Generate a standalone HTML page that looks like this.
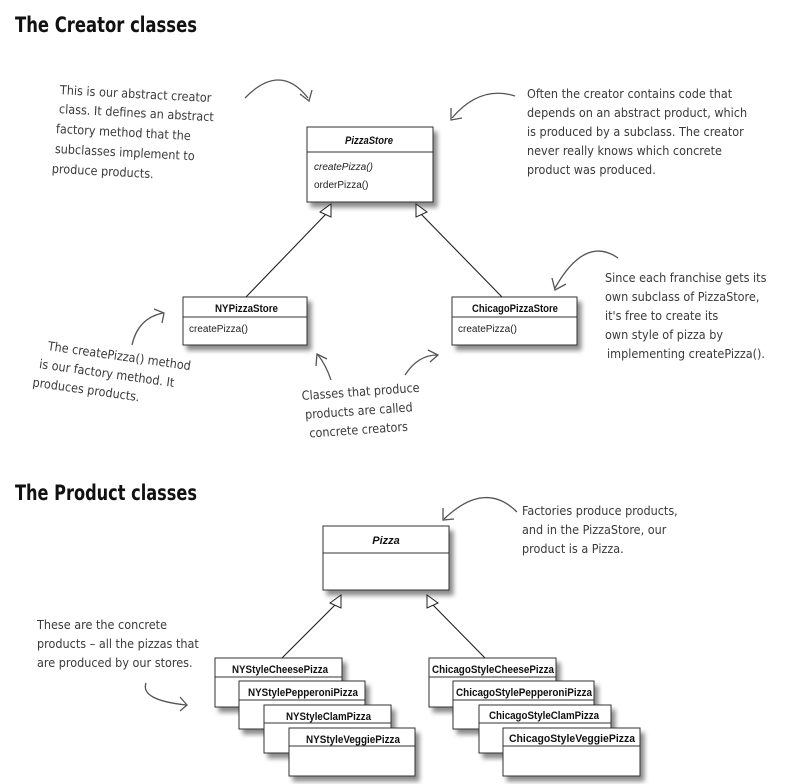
<!DOCTYPE html>
<html><head><meta charset="utf-8"><style>
html,body{margin:0;padding:0;background:#fff;}
svg{display:block}
.h{font-family:"DejaVu Sans Condensed","DejaVu Sans",sans-serif;font-weight:bold;font-size:21px;fill:#111}
.n{font-family:"DejaVu Sans Condensed","DejaVu Sans",sans-serif;font-size:12.5px;fill:#3a3a3a}
.c{font-family:"Liberation Sans",sans-serif;font-size:11px;font-weight:bold;fill:#111}
.m{font-family:"Liberation Sans",sans-serif;font-size:10px;fill:#222}
.b{fill:#fff;stroke:#333;stroke-width:1}
.a{fill:none;stroke:#555;stroke-width:1.3}
</style></head><body>
<svg width="809" height="784" viewBox="0 0 809 784">
<defs>
<filter id="s" x="-20%" y="-20%" width="150%" height="160%">
<feDropShadow dx="4" dy="5" stdDeviation="2.5" flood-color="#000" flood-opacity="0.45"/>
</filter>
</defs>
<text class="h" x="15" y="32" textLength="182" lengthAdjust="spacingAndGlyphs">The Creator classes</text>
<text class="h" x="15" y="500" textLength="182" lengthAdjust="spacingAndGlyphs">The Product classes</text>

<!-- PizzaStore -->
<g filter="url(#s)"><rect class="b" x="307" y="127" width="126" height="75"/></g>
<line x1="307" y1="152" x2="433" y2="152" stroke="#333"/>
<text class="c" x="345" y="144" font-style="italic" textLength="48" lengthAdjust="spacingAndGlyphs">PizzaStore</text>
<text class="m" x="314" y="170" font-style="italic">createPizza()</text>
<text class="m" x="314" y="188">orderPizza()</text>

<g filter="url(#s)"><rect class="b" x="183" y="297" width="124" height="48"/></g>
<line x1="183" y1="317" x2="307" y2="317" stroke="#333"/>
<text class="c" x="215" y="312" textLength="63" lengthAdjust="spacingAndGlyphs">NYPizzaStore</text>
<text class="m" x="189" y="332">createPizza()</text>

<g filter="url(#s)"><rect class="b" x="452" y="297" width="125" height="48"/></g>
<line x1="452" y1="317" x2="577" y2="317" stroke="#333"/>
<text class="c" x="472" y="312" textLength="86" lengthAdjust="spacingAndGlyphs">ChicagoPizzaStore</text>
<text class="m" x="458" y="332">createPizza()</text>

<line x1="326" y1="214" x2="246" y2="297" stroke="#222" stroke-width="1.1"/>
<line x1="421" y1="214" x2="502" y2="297" stroke="#222" stroke-width="1.1"/>
<polygon points="331,204 331,217 320,212" fill="#fff" stroke="#222"/>
<polygon points="416,204 416,217 427,212" fill="#fff" stroke="#222"/>

<!-- Pizza -->
<g filter="url(#s)"><rect class="b" x="323" y="526" width="126" height="64"/></g>
<line x1="323" y1="553" x2="449" y2="553" stroke="#333"/>
<text class="c" x="386" y="544" text-anchor="middle" font-style="italic">Pizza</text>
<line x1="336" y1="604" x2="282" y2="658" stroke="#222" stroke-width="1.1"/>
<line x1="432" y1="604" x2="485" y2="658" stroke="#222" stroke-width="1.1"/>
<polygon points="341,595 341,608 330,603" fill="#fff" stroke="#222"/>
<polygon points="427,595 427,608 438,603" fill="#fff" stroke="#222"/>

<!-- NY products -->
<g filter="url(#s)"><rect class="b" x="215" y="658" width="127" height="49"/></g>
<line x1="215" y1="677" x2="342" y2="677" stroke="#333"/>
<text class="c" x="232" y="673" textLength="96" lengthAdjust="spacingAndGlyphs">NYStyleCheesePizza</text>
<g filter="url(#s)"><rect class="b" x="239" y="681" width="126" height="48"/></g>
<line x1="239" y1="700" x2="365" y2="700" stroke="#333"/>
<text class="c" x="248" y="696" textLength="110" lengthAdjust="spacingAndGlyphs">NYStylePepperoniPizza</text>
<g filter="url(#s)"><rect class="b" x="264" y="705" width="127" height="48"/></g>
<line x1="264" y1="723" x2="391" y2="723" stroke="#333"/>
<text class="c" x="286" y="720" textLength="85" lengthAdjust="spacingAndGlyphs">NYStyleClamPizza</text>
<g filter="url(#s)"><rect class="b" x="289" y="728" width="126" height="48"/></g>
<line x1="289" y1="746" x2="415" y2="746" stroke="#333"/>
<text class="c" x="306" y="743" textLength="94" lengthAdjust="spacingAndGlyphs">NYStyleVeggiePizza</text>

<!-- Chicago products -->
<g filter="url(#s)"><rect class="b" x="429" y="658" width="127" height="49"/></g>
<line x1="429" y1="677" x2="556" y2="677" stroke="#333"/>
<text class="c" x="432" y="673" textLength="122" lengthAdjust="spacingAndGlyphs">ChicagoStyleCheesePizza</text>
<g filter="url(#s)"><rect class="b" x="453" y="681" width="141" height="48"/></g>
<line x1="453" y1="700" x2="594" y2="700" stroke="#333"/>
<text class="c" x="456" y="696" textLength="136" lengthAdjust="spacingAndGlyphs">ChicagoStylePepperoniPizza</text>
<g filter="url(#s)"><rect class="b" x="479" y="705" width="132" height="48"/></g>
<line x1="479" y1="723" x2="611" y2="723" stroke="#333"/>
<text class="c" x="489" y="719" textLength="110" lengthAdjust="spacingAndGlyphs">ChicagoStyleClamPizza</text>
<g filter="url(#s)"><rect class="b" x="503" y="728" width="137" height="48"/></g>
<line x1="503" y1="746" x2="640" y2="746" stroke="#333"/>
<text class="c" x="509" y="742" textLength="126" lengthAdjust="spacingAndGlyphs">ChicagoStyleVeggiePizza</text>

<!-- Notes -->
<g transform="rotate(3 57 90)">
<text class="n" x="60" y="94">This is our abstract creator</text>
<text class="n" x="60" y="113">class.  It defines an abstract</text>
<text class="n" x="58" y="133">factory method that the</text>
<text class="n" x="58" y="153">subclasses implement to</text>
<text class="n" x="56" y="173">produce products.</text>
</g>
<path class="a" d="M245,98 Q280,62 308,98"/><path class="a" d="M300,94 L309,101 L312,90"/>

<text class="n" x="527" y="98">Often the creator contains code that</text>
<text class="n" x="527" y="117">depends on an abstract product, which</text>
<text class="n" x="527" y="136">is produced by a subclass.  The creator</text>
<text class="n" x="527" y="155">never really knows which concrete</text>
<text class="n" x="527" y="174">product was produced.</text>
<path class="a" d="M515,96 Q480,85 452,118"/><path class="a" d="M451,108 L451,120 L462,118"/>

<text class="n" x="605" y="282">Since each franchise gets its</text>
<text class="n" x="605" y="301">own subclass of PizzaStore,</text>
<text class="n" x="605" y="320">it's free to create its</text>
<text class="n" x="605" y="339">own style of pizza by</text>
<text class="n" x="607" y="358">implementing createPizza().</text>
<path class="a" d="M618,258 Q585,235 555,288"/><path class="a" d="M552,278 L555,290 L566,284"/>

<g transform="rotate(8 40 345)">
<text class="n" x="48" y="349">The createPizza() method</text>
<text class="n" x="42" y="368">is our factory method.  It</text>
<text class="n" x="38" y="387">produces products.</text>
</g>
<path class="a" d="M132,345 Q138,318 163,313"/><path class="a" d="M154,309 L164,313 L162,323"/>

<g transform="rotate(-4 302 400)">
<text class="n" x="302" y="400">Classes that produce</text>
<text class="n" x="304" y="419">products are called</text>
<text class="n" x="307" y="438">concrete creators</text>
</g>
<path class="a" d="M331,380 Q326,365 318,355"/><path class="a" d="M316,366 L317,354 L327,359"/>
<path class="a" d="M405,375 Q418,355 437,355"/><path class="a" d="M428,350 L438,355 L430,362"/>

<text class="n" x="522" y="515">Factories produce products,</text>
<text class="n" x="522" y="534">and in the PizzaStore, our</text>
<text class="n" x="522" y="553">product is a Pizza.</text>
<path class="a" d="M517,512 Q485,480 444,519"/><path class="a" d="M443,508 L443,520 L454,519"/>

<text class="n" x="37" y="629">These are the concrete</text>
<text class="n" x="37" y="648">products – all the pizzas that</text>
<text class="n" x="37" y="667">are produced by our stores.</text>
<path class="a" d="M146,683 Q140,700 186,705"/><path class="a" d="M180,697 L187,705 L180,711"/>
</svg>
</body></html>
